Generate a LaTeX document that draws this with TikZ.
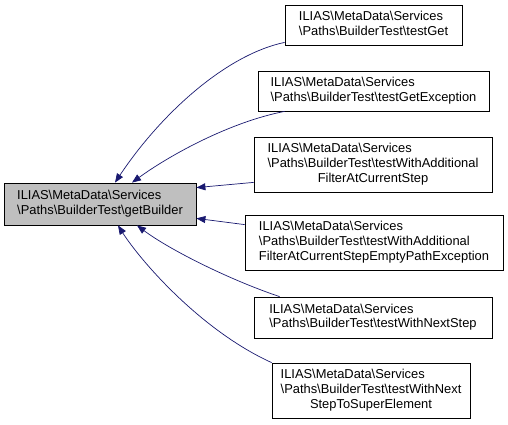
\documentclass[tikz,border=0pt]{standalone}
\usepackage{fontspec}
\setmainfont{Liberation Sans}
\definecolor{edgeblue}{RGB}{25, 25, 112}
\definecolor{mainfill}{RGB}{191, 191, 191}
\usetikzlibrary{arrows.meta, positioning, calc}
\newcommand{\bs}{\textbackslash}

\begin{document}
\begin{tikzpicture}[x=1pt, y=-1pt,
  box/.style={draw=black, fill=white, line width=0.8pt, inner sep=0pt,
    font=\fontsize{12.9}{14.7}\selectfont},
  edge/.style={draw=edgeblue, line width=0.7pt, -{Triangle[length=9pt, width=7pt]}}]
  \useasboundingbox (0, 0) rectangle (508, 425);

  % Called function
  \node[box, fill=mainfill, minimum width=192pt, minimum height=42pt] (getBuilder) at (100, 204)
    {\begin{tabular}{@{}l@{}}ILIAS\bs MetaData\bs Services\\\bs Paths\bs BuilderTest\bs getBuilder\end{tabular}};

  % Callers
  \node[box, minimum width=177pt, minimum height=40pt] (testGet) at (373.5, 25)
    {\begin{tabular}{@{}l@{}}ILIAS\bs MetaData\bs Services\\\bs Paths\bs BuilderTest\bs testGet\end{tabular}};
  \node[box, minimum width=231pt, minimum height=40pt] (testGetException) at (373.5, 91)
    {\begin{tabular}{@{}l@{}}ILIAS\bs MetaData\bs Services\\\bs Paths\bs BuilderTest\bs testGetException\end{tabular}};
  \node[box, minimum width=238pt, minimum height=55pt] (testFilter) at (373, 164.5)
    {\begin{tabular}{@{}l@{}}ILIAS\bs MetaData\bs Services\\\bs Paths\bs BuilderTest\bs testWithAdditional\\
     \multicolumn{1}{@{}c@{}}{FilterAtCurrentStep}\end{tabular}};
  \node[box, minimum width=258pt, minimum height=55pt] (testFilterEmpty) at (374, 242.5)
    {\begin{tabular}{@{}l@{}}ILIAS\bs MetaData\bs Services\\\bs Paths\bs BuilderTest\bs testWithAdditional\\
     FilterAtCurrentStepEmptyPathException\end{tabular}};
  \node[box, minimum width=238pt, minimum height=41pt] (testNext) at (373, 317.5)
    {\begin{tabular}{@{}l@{}}ILIAS\bs MetaData\bs Services\\\bs Paths\bs BuilderTest\bs testWithNextStep\end{tabular}};
  \node[box, minimum width=198pt, minimum height=55pt] (testNextSuper) at (371, 390.5)
    {\begin{tabular}{@{}l@{}}ILIAS\bs MetaData\bs Services\\\bs Paths\bs BuilderTest\bs testWithNext\\
     \multicolumn{1}{@{}c@{}}{StepToSuperElement}\end{tabular}};

  % Call edges
  \draw[edge] ([yshift=3pt]testGet.south west) .. controls (225, 55) and (160, 115) .. ([xshift=15pt]getBuilder.north);
  \draw[edge] ([xshift=27pt]testGetException.south west) .. controls (230, 122) and (170, 155) .. ([xshift=32pt]getBuilder.north);
  \draw[edge] ([yshift=10pt]testFilter.south west) -- ([yshift=-5pt]getBuilder.north east);
  \draw[edge] ([yshift=-10pt]testFilterEmpty.north west) -- ([yshift=7pt]getBuilder.south east);
  \draw[edge] ([xshift=26pt]testNext.north west) .. controls (230, 280) and (170, 250) .. ([xshift=37pt]getBuilder.south);
  \draw[edge] (testNextSuper.north west) .. controls (200, 330) and (140, 260) .. ([xshift=18pt]getBuilder.south);
\end{tikzpicture}
\end{document}
